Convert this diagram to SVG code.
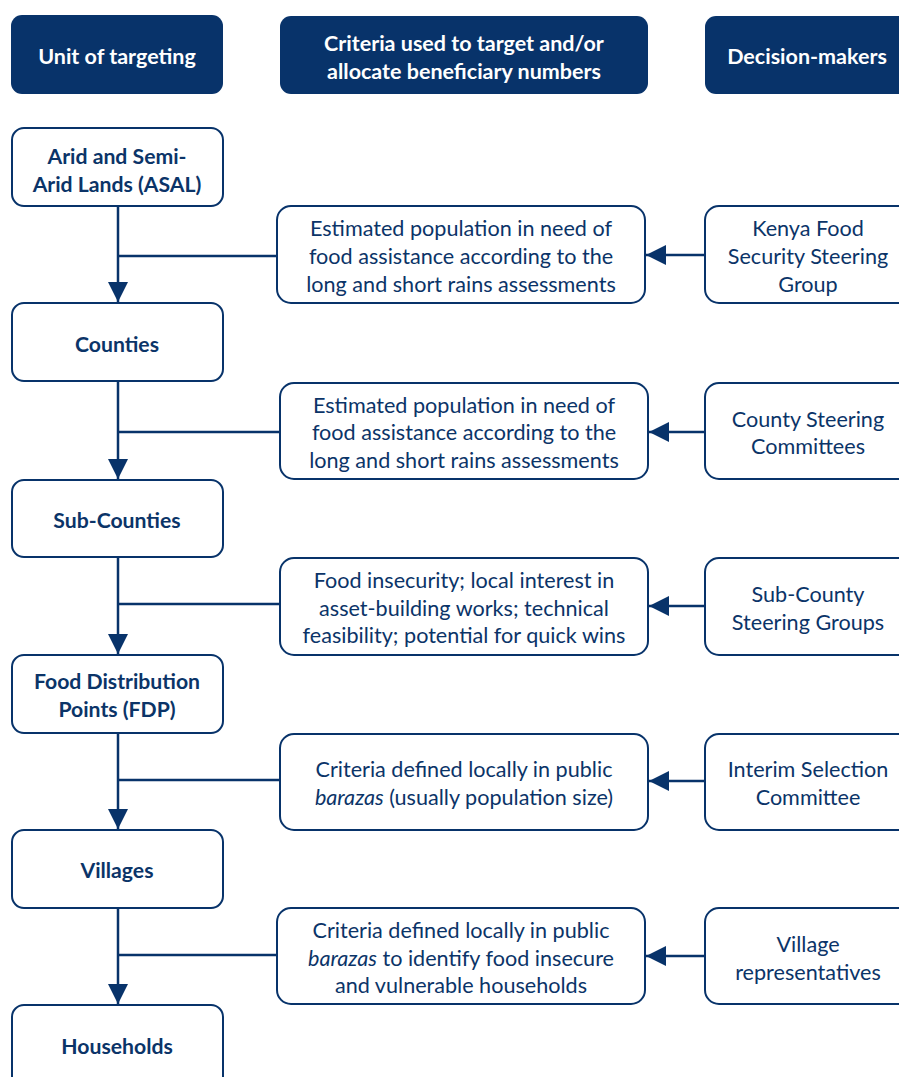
<svg xmlns="http://www.w3.org/2000/svg" width="899" height="1077" viewBox="0 0 899 1077">
<style>
.hdr{fill:#08336a}
.box{fill:#fff;stroke:#08336a;stroke-width:2}
.ht{font-family:Lato,"Open Sans",sans-serif;font-weight:bold;font-size:21.5px;fill:#fff;text-anchor:middle}
.lt{font-family:Lato,"Open Sans",sans-serif;font-weight:bold;font-size:21.2px;fill:#0b3468;text-anchor:middle}
.mt{font-family:Lato,"Open Sans",sans-serif;font-size:21.6px;fill:#0b3468;text-anchor:middle}
.ln{stroke:#08336a;stroke-width:2.5;fill:none}
</style>
<defs>
<marker id="ah" viewBox="0 0 10 10" refX="10" refY="5" markerWidth="8" markerHeight="8" markerUnits="strokeWidth" orient="auto">
<path d="M0,0 L10,5 L0,10 Z" fill="#08336a"/>
</marker>
</defs>
<g id="headers">
<g id="h1"><rect class="hdr" x="11" y="15" width="212" height="79" rx="11"/><text class="ht" x="117" y="64">Unit of targeting</text></g>
<g id="h2"><rect class="hdr" x="280" y="16" width="368" height="78" rx="11"/><text class="ht" x="464" y="51">Criteria used to target and/or</text><text class="ht" x="464" y="79">allocate beneficiary numbers</text></g>
<g id="h3"><rect class="hdr" x="705" y="16" width="210" height="78" rx="11"/><text class="ht" x="807" y="64">Decision-makers</text></g>
</g>
<g id="connectors">
<line class="ln" x1="118" y1="206" x2="118" y2="302" marker-end="url(#ah)"/>
<line class="ln" x1="118" y1="381" x2="118" y2="479" marker-end="url(#ah)"/>
<line class="ln" x1="118" y1="557" x2="118" y2="654" marker-end="url(#ah)"/>
<line class="ln" x1="118" y1="733" x2="118" y2="829" marker-end="url(#ah)"/>
<line class="ln" x1="118" y1="908" x2="118" y2="1004" marker-end="url(#ah)"/>
<line class="ln" x1="118" y1="256" x2="277" y2="256"/>
<line class="ln" x1="118" y1="432" x2="280" y2="432"/>
<line class="ln" x1="118" y1="604" x2="280" y2="604"/>
<line class="ln" x1="118" y1="780" x2="280" y2="780"/>
<line class="ln" x1="118" y1="955" x2="277" y2="955"/>
<line class="ln" x1="705" y1="255" x2="646" y2="255" marker-end="url(#ah)"/>
<line class="ln" x1="705" y1="432" x2="649" y2="432" marker-end="url(#ah)"/>
<line class="ln" x1="705" y1="606" x2="649" y2="606" marker-end="url(#ah)"/>
<line class="ln" x1="705" y1="781" x2="649" y2="781" marker-end="url(#ah)"/>
<line class="ln" x1="705" y1="956" x2="646" y2="956" marker-end="url(#ah)"/>
</g>
<g id="asal"><rect class="box" x="12" y="128" width="211" height="78" rx="12"/><text class="lt" x="117" y="164">Arid and Semi-</text><text class="lt" x="117" y="192">Arid Lands (ASAL)</text></g>
<g id="counties"><rect class="box" x="12" y="303" width="211" height="78" rx="12"/><text class="lt" x="117" y="352">Counties</text></g>
<g id="subcounties"><rect class="box" x="12" y="480" width="211" height="77" rx="12"/><text class="lt" x="117" y="528">Sub-Counties</text></g>
<g id="fdp"><rect class="box" x="12" y="655" width="211" height="78" rx="12"/><text class="lt" x="117" y="689">Food Distribution</text><text class="lt" x="117" y="717">Points (FDP)</text></g>
<g id="villages"><rect class="box" x="12" y="830" width="211" height="78" rx="12"/><text class="lt" x="117" y="878">Villages</text></g>
<g id="households"><rect class="box" x="12" y="1005" width="211" height="90" rx="12"/><text class="lt" x="117" y="1054">Households</text></g>
<g id="c1"><rect class="box" x="277" y="206" width="368" height="97" rx="14"/><text class="mt" x="461" y="236">Estimated population in need of</text><text class="mt" x="461" y="264">food assistance according to the</text><text class="mt" x="461" y="292">long and short rains assessments</text></g>
<g id="c2"><rect class="box" x="280" y="383" width="368" height="96" rx="14"/><text class="mt" x="464" y="413">Estimated population in need of</text><text class="mt" x="464" y="440">food assistance according to the</text><text class="mt" x="464" y="468">long and short rains assessments</text></g>
<g id="c3"><rect class="box" x="280" y="558" width="368" height="97" rx="14"/><text class="mt" x="464" y="588">Food insecurity; local interest in</text><text class="mt" x="464" y="616">asset-building works; technical</text><text class="mt" x="464" y="643">feasibility; potential for quick wins</text></g>
<g id="c4"><rect class="box" x="280" y="734" width="368" height="96" rx="14"/><text class="mt" x="464" y="777">Criteria defined locally in public</text><text class="mt" x="464" y="805"><tspan font-style="italic">barazas</tspan> (usually population size)</text></g>
<g id="c5"><rect class="box" x="277" y="908" width="368" height="96" rx="14"/><text class="mt" x="461" y="938">Criteria defined locally in public</text><text class="mt" x="461" y="966"><tspan font-style="italic">barazas</tspan> to identify food insecure</text><text class="mt" x="461" y="993">and vulnerable households</text></g>
<g id="d1"><rect class="box" x="705" y="206" width="215" height="97" rx="14"/><text class="mt" x="808" y="236">Kenya Food</text><text class="mt" x="808" y="264">Security Steering</text><text class="mt" x="808" y="292">Group</text></g>
<g id="d2"><rect class="box" x="705" y="383" width="215" height="96" rx="14"/><text class="mt" x="808" y="427">County Steering</text><text class="mt" x="808" y="454">Committees</text></g>
<g id="d3"><rect class="box" x="705" y="558" width="215" height="97" rx="14"/><text class="mt" x="808" y="602">Sub-County</text><text class="mt" x="808" y="630">Steering Groups</text></g>
<g id="d4"><rect class="box" x="705" y="734" width="215" height="96" rx="14"/><text class="mt" x="808" y="777">Interim Selection</text><text class="mt" x="808" y="805">Committee</text></g>
<g id="d5"><rect class="box" x="705" y="908" width="215" height="96" rx="14"/><text class="mt" x="808" y="952">Village</text><text class="mt" x="808" y="980">representatives</text></g>
</svg>
